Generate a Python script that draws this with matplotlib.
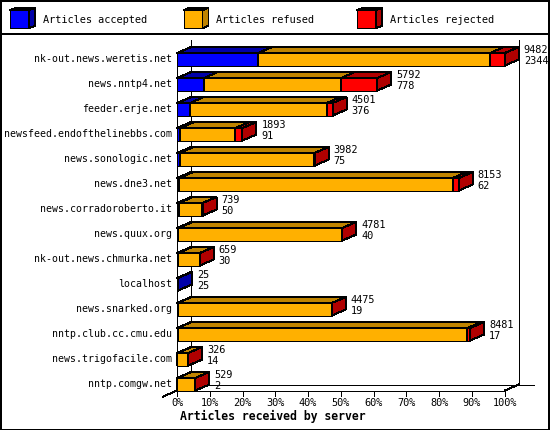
import numpy as np
import matplotlib.pyplot as plt
from matplotlib.patches import Polygon, Rectangle
from matplotlib.lines import Line2D

servers = ['nk-out.news.weretis.net', 'news.nntp4.net', 'feeder.erje.net',
           'newsfeed.endofthelinebbs.com', 'news.sonologic.net', 'news.dne3.net',
           'news.corradoroberto.it', 'news.quux.org', 'nk-out.news.chmurka.net',
           'localhost', 'news.snarked.org', 'nntp.club.cc.cmu.edu',
           'news.trigofacile.com', 'nntp.comgw.net']
accepted = [2344, 778, 376, 91, 75, 62, 50, 40, 30, 25, 19, 17, 14, 2]
refused = [6708, 3964, 3954, 1597, 3897, 7914, 684, 4736, 624, 0, 4451, 8384, 307, 522]
rejected = [430, 1050, 171, 205, 10, 177, 5, 5, 5, 0, 5, 80, 5, 5]
series = ['Articles accepted', 'Articles refused', 'Articles rejected']
xticks = list(range(0, 101, 10))
xlabel = 'Articles received by server'

front_col = ['#0000ff', '#ffb000', '#ff0000']
dark_col = ['#0000a8', '#c08400', '#b00000']

W, H = 550, 430
fig = plt.figure(figsize=(W / 100, H / 100), dpi=100)
fig.patch.set_facecolor('white')

# front plane of plot: 0% at px 177, 100% at px 505, rows 25 px apart
x0_px, x100_px = 177, 504.7
row_px = 25.0
top_px = 46.0
ylim_bot, ylim_top = 13.25, (top_px - 59.3) / row_px
bot_px = 59.3 + ylim_bot * row_px
ax = fig.add_axes([x0_px / W, 1 - bot_px / H, (x100_px - x0_px) / W, (bot_px - top_px) / H])
ax.set_xlim(0, 100)
ax.set_ylim(ylim_bot, ylim_top)
ax.axis('off')

PX_X = 100 / (x100_px - x0_px)
PX_Y = 1 / row_px
DX, DY = 14 * PX_X, 6 * PX_Y
BH = 0.5

mono = 'DejaVu Sans Mono'
fs = 7.4
lw = 0.7


def box(a, xa, xb, yc, h, dx, dy, fc, dc, z):
    yt, yb = yc - h / 2, yc + h / 2
    faces = [
        ([(xa, yt), (xb, yt), (xb, yb), (xa, yb)], fc),
        ([(xa, yt), (xb, yt), (xb + dx, yt - dy), (xa + dx, yt - dy)], dc),
        ([(xb, yt), (xb + dx, yt - dy), (xb + dx, yb - dy), (xb, yb)], dc),
    ]
    for pts, c in faces:
        a.add_patch(Polygon(pts, closed=True, facecolor=c, edgecolor='black',
                            lw=lw, zorder=z, clip_on=False, antialiased=False))


def line(xs, ys, z=1):
    ax.add_line(Line2D(xs, ys, color='black', lw=lw, zorder=z, clip_on=False,
                       antialiased=False))


# back walls and floor
yb_back = ylim_bot - DY
yt_back = ylim_top - DY
line([DX, DX], [yt_back, yb_back])
line([100 + DX, 100 + DX], [yt_back, yb_back])
line([DX, 100 + DX + 15 * PX_X], [yb_back, yb_back])
line([100, 100 + DX], [ylim_bot, yb_back])
line([0, -DX], [ylim_bot, ylim_bot + DY])
line([0, 100], [ylim_bot, ylim_bot], z=5)
line([0, 0], [ylim_bot, -BH / 2 - 0.04], z=2)

totals = np.array(accepted) + np.array(refused) + np.array(rejected)
scale = 100 / totals.max()
data = np.array([accepted, refused, rejected]) * scale

for i, name in enumerate(servers):
    left = 0
    for k in range(3):
        w = data[k][i]
        if w <= 0:
            continue
        box(ax, left, left + w, i, BH, DX, DY, front_col[k], dark_col[k], 3)
        left += w
    ax.text(-5 * PX_X, i, name, ha='right', va='center', family=mono, fontsize=7.1)
    tx = left + DX + 5 * PX_X
    ax.text(tx, i - 0.38, str(totals[i]), ha='left', va='center', family=mono, fontsize=fs)
    ax.text(tx, i + 0.05, str(accepted[i]), ha='left', va='center', family=mono, fontsize=fs)

for t in xticks:
    line([t, t], [ylim_bot, ylim_bot + 5 * PX_Y])
    ax.text(t, ylim_bot + 0.5, f'{t}%', ha='center', va='center', family=mono, fontsize=fs)

ax.text(1, ylim_bot + 1.04, xlabel, ha='left', va='center', family=mono,
        fontsize=8.3, fontweight='bold')

# legend strip
lax = fig.add_axes([0, 1 - 34 / H, 1, 34 / H])
lax.set_xlim(0, W)
lax.set_ylim(34, 0)
lax.axis('off')
for k, s in enumerate(series):
    lx = 10 + k * 173.5
    box(lax, lx, lx + 19, 19.3, 18, 6, 2.5, front_col[k], dark_col[k], 3)
    lax.text(lx + 33, 20, s, ha='left', va='center', family=mono, fontsize=fs)

# outer border and separator
fig.add_artist(Rectangle((0.5 / W, 0.5 / H), 1 - 1.5 / W, 1 - 1.5 / H, transform=fig.transFigure,
                         fill=False, edgecolor='black', lw=1.4, antialiased=False))
fig.add_artist(Line2D([0, 1], [1 - 34 / H, 1 - 34 / H], transform=fig.transFigure,
                      color='black', lw=1.4, antialiased=False))

fig.savefig('out.png', dpi=100)
